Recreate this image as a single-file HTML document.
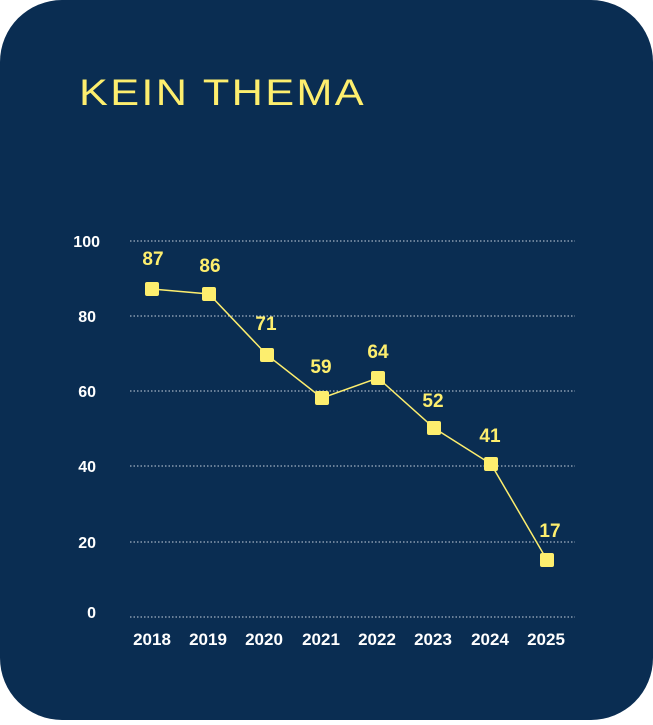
<!DOCTYPE html>
<html><head><meta charset="utf-8"><style>
html,body{margin:0;padding:0;background:#fff;}
body{width:653px;height:720px;overflow:hidden;}
</style></head><body>
<svg width="653" height="720" xmlns="http://www.w3.org/2000/svg">
<rect x="0" y="0" width="653" height="720" rx="62" ry="62" fill="#0a2d52"/>
<text x="79" y="105" fill="#fdee6e" font-family="Liberation Sans, sans-serif" font-size="37" letter-spacing="2" textLength="287" lengthAdjust="spacingAndGlyphs">KEIN THEMA</text>
<g stroke="#c8d2de" stroke-width="1" stroke-dasharray="1.5,2">
<line x1="130" y1="241" x2="575" y2="241"/>
<line x1="130" y1="316" x2="575" y2="316"/>
<line x1="130" y1="391" x2="575" y2="391"/>
<line x1="130" y1="466" x2="575" y2="466"/>
<line x1="130" y1="542" x2="575" y2="542"/>
<line x1="130" y1="617" x2="575" y2="617"/>
</g>
<g fill="#fff" font-family="Liberation Sans, sans-serif" font-size="16" font-weight="bold" text-anchor="end">
<text x="100" y="247">100</text>
<text x="96" y="322">80</text>
<text x="96" y="397">60</text>
<text x="96" y="472">40</text>
<text x="96" y="548">20</text>
<text x="96" y="618">0</text>
</g>
<g fill="#fff" font-family="Liberation Sans, sans-serif" font-size="17" font-weight="bold" text-anchor="middle">
<text x="152" y="645">2018</text>
<text x="208" y="645">2019</text>
<text x="264" y="645">2020</text>
<text x="321" y="645">2021</text>
<text x="377" y="645">2022</text>
<text x="433" y="645">2023</text>
<text x="490" y="645">2024</text>
<text x="546" y="645">2025</text>
</g>
<polyline fill="none" stroke="#fdee6e" stroke-width="1.5" points="152,289 209,294 267,355 322,398 378,378 434,428 491,464 547,560"/>
<g fill="#fdee6e">
<rect x="145" y="282" width="14" height="14" rx="2"/>
<rect x="202" y="287" width="14" height="14" rx="2"/>
<rect x="260" y="348" width="14" height="14" rx="2"/>
<rect x="315" y="391" width="14" height="14" rx="2"/>
<rect x="371" y="371" width="14" height="14" rx="2"/>
<rect x="427" y="421" width="14" height="14" rx="2"/>
<rect x="484" y="457" width="14" height="14" rx="2"/>
<rect x="540" y="553" width="14" height="14" rx="2"/>
</g>
<g fill="#fdee6e" font-family="Liberation Sans, sans-serif" font-size="19" font-weight="600" text-anchor="middle">
<text x="153" y="265">87</text>
<text x="210" y="272">86</text>
<text x="266" y="330">71</text>
<text x="321" y="373">59</text>
<text x="378" y="358">64</text>
<text x="433" y="407">52</text>
<text x="490" y="442">41</text>
<text x="550" y="537">17</text>
</g>
</svg>
</body></html>
